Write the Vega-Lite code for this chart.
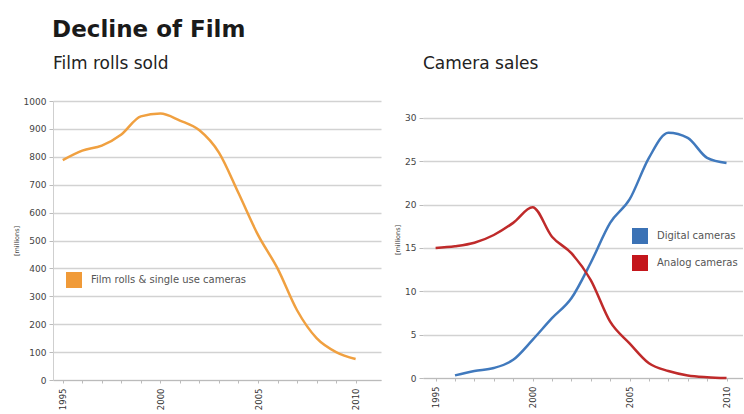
{
  "$schema": "https://vega.github.io/schema/vega-lite/v6.json",
  "background": "white",
  "padding": {"left": 13, "top": 19, "right": 0, "bottom": 0},
  "title": {"text": "Decline of Film", "fontSize": 23, "fontWeight": "bold", "font": "DejaVu Sans", "color": "#1a1a1a", "anchor": "start", "dx": 39, "offset": 13},
  "datasets": {
    "film": [
      {"year": 1995, "value": 788, "series": "Film rolls & single use cameras"},
      {"year": 1996, "value": 822, "series": "Film rolls & single use cameras"},
      {"year": 1997, "value": 840, "series": "Film rolls & single use cameras"},
      {"year": 1998, "value": 880, "series": "Film rolls & single use cameras"},
      {"year": 1999, "value": 945, "series": "Film rolls & single use cameras"},
      {"year": 2000, "value": 955, "series": "Film rolls & single use cameras"},
      {"year": 2001, "value": 930, "series": "Film rolls & single use cameras"},
      {"year": 2002, "value": 895, "series": "Film rolls & single use cameras"},
      {"year": 2003, "value": 815, "series": "Film rolls & single use cameras"},
      {"year": 2004, "value": 670, "series": "Film rolls & single use cameras"},
      {"year": 2005, "value": 520, "series": "Film rolls & single use cameras"},
      {"year": 2006, "value": 400, "series": "Film rolls & single use cameras"},
      {"year": 2007, "value": 250, "series": "Film rolls & single use cameras"},
      {"year": 2008, "value": 150, "series": "Film rolls & single use cameras"},
      {"year": 2009, "value": 100, "series": "Film rolls & single use cameras"},
      {"year": 2010, "value": 75, "series": "Film rolls & single use cameras"}
    ],
    "cameras": [
      {"year": 1996, "value": 0.3, "series": "Digital cameras"},
      {"year": 1997, "value": 0.8, "series": "Digital cameras"},
      {"year": 1998, "value": 1.15, "series": "Digital cameras"},
      {"year": 1999, "value": 2.1, "series": "Digital cameras"},
      {"year": 2000, "value": 4.4, "series": "Digital cameras"},
      {"year": 2001, "value": 6.9, "series": "Digital cameras"},
      {"year": 2002, "value": 9.2, "series": "Digital cameras"},
      {"year": 2003, "value": 13.3, "series": "Digital cameras"},
      {"year": 2004, "value": 17.9, "series": "Digital cameras"},
      {"year": 2005, "value": 20.6, "series": "Digital cameras"},
      {"year": 2006, "value": 25.4, "series": "Digital cameras"},
      {"year": 2007, "value": 28.3, "series": "Digital cameras"},
      {"year": 2008, "value": 27.7, "series": "Digital cameras"},
      {"year": 2009, "value": 25.4, "series": "Digital cameras"},
      {"year": 2010, "value": 24.8, "series": "Digital cameras"},
      {"year": 1995, "value": 15.0, "series": "Analog cameras"},
      {"year": 1996, "value": 15.2, "series": "Analog cameras"},
      {"year": 1997, "value": 15.6, "series": "Analog cameras"},
      {"year": 1998, "value": 16.5, "series": "Analog cameras"},
      {"year": 1999, "value": 17.9, "series": "Analog cameras"},
      {"year": 2000, "value": 19.7, "series": "Analog cameras"},
      {"year": 2001, "value": 16.3, "series": "Analog cameras"},
      {"year": 2002, "value": 14.4, "series": "Analog cameras"},
      {"year": 2003, "value": 11.3, "series": "Analog cameras"},
      {"year": 2004, "value": 6.5, "series": "Analog cameras"},
      {"year": 2005, "value": 4.0, "series": "Analog cameras"},
      {"year": 2006, "value": 1.7, "series": "Analog cameras"},
      {"year": 2007, "value": 0.8, "series": "Analog cameras"},
      {"year": 2008, "value": 0.3, "series": "Analog cameras"},
      {"year": 2009, "value": 0.1, "series": "Analog cameras"},
      {"year": 2010, "value": 0.0, "series": "Analog cameras"}
    ]
  },
  "config": {
    "font": "DejaVu Sans",
    "view": {"stroke": null},
    "axis": {"labelFont": "DejaVu Sans", "titleFont": "DejaVu Sans", "labelColor": "#444", "titleColor": "#444"},
    "axisY": {"domain": true, "domainColor": "#cfcfcf", "domainWidth": 1, "grid": true, "gridColor": "#d2d2d2", "gridWidth": 1.5, "tickColor": "#bbb", "tickSize": 4, "labelFontSize": 9, "titleFontSize": 6.5, "titleFontWeight": "normal", "titlePadding": 4, "labelPadding": 3},
    "axisX": {"domain": true, "domainColor": "#bbb", "grid": false, "tickColor": "#bbb", "tickSize": 3, "labelFontSize": 8.5, "labelAngle": 270, "labelPadding": 5, "labelColor": "#333"},
    "legend": {"labelFont": "DejaVu Sans", "labelFontSize": 10, "labelColor": "#555", "symbolType": "square", "symbolSize": 256, "symbolStrokeWidth": 0, "labelOffset": 9, "padding": 0},
    "title": {"font": "DejaVu Sans"}
  },
  "resolve": {"scale": {"color": "independent"}, "legend": {"color": "independent"}},
  "bounds": "flush",
  "spacing": 42,
  "hconcat": [
    {
      "data": {"name": "film"},
      "width": 328,
      "height": 279,
      "title": {"text": "Film rolls sold", "fontSize": 17, "fontWeight": "normal", "color": "#222", "anchor": "start", "frame": "group", "offset": 24},
      "mark": {"type": "line", "strokeWidth": 2.5, "interpolate": "monotone"},
      "encoding": {
        "x": {"field": "year", "type": "quantitative", "title": null,
              "scale": {"domain": [1994.5, 2011.3], "nice": false, "zero": false},
              "axis": {"values": [1995,1996,1997,1998,1999,2000,2001,2002,2003,2004,2005,2006,2007,2008,2009,2010], "format": "d", "labelExpr": "datum.value % 5 === 0 ? datum.label : ''"}},
        "y": {"field": "value", "type": "quantitative", "title": "[millions]",
              "scale": {"domain": [0, 1000], "nice": false},
              "axis": {"values": [0,100,200,300,400,500,600,700,800,900,1000], "format": "d"}},
        "color": {"field": "series", "type": "nominal",
                  "scale": {"domain": ["Film rolls & single use cameras"], "range": ["#f0a040"]},
                  "legend": {"title": null, "orient": "none", "legendX": 13, "legendY": 171,
                             "encode": {"symbols": {"update": {"fill": {"value": "#f09a38"}, "strokeWidth": {"value": 0}}}}}}
      }
    },
    {
      "data": {"name": "cameras"},
      "width": 320,
      "height": 277,
      "title": {"text": "Camera sales", "fontSize": 17, "fontWeight": "normal", "color": "#222", "anchor": "start", "frame": "group", "offset": 28},
      "mark": {"type": "line", "strokeWidth": 2.5, "interpolate": "monotone"},
      "encoding": {
        "x": {"field": "year", "type": "quantitative", "title": null,
              "scale": {"domain": [1994.35, 2010.85], "nice": false, "zero": false},
              "axis": {"values": [1995,1996,1997,1998,1999,2000,2001,2002,2003,2004,2005,2006,2007,2008,2009,2010], "format": "d", "labelExpr": "datum.value % 5 === 0 ? datum.label : ''"}},
        "y": {"field": "value", "type": "quantitative", "title": "[millions]",
              "scale": {"domain": [0, 31.96], "nice": false},
              "axis": {"values": [0,5,10,15,20,25,30], "domain": false}},
        "color": {"field": "series", "type": "nominal",
                  "scale": {"domain": ["Digital cameras", "Analog cameras"], "range": ["#4079bd", "#bf2a2a"]},
                  "legend": {"title": null, "orient": "none", "legendX": 209, "legendY": 127, "rowPadding": 11,
                             "encode": {"symbols": {"update": {"fill": {"signal": "datum.value === 'Digital cameras' ? '#3b72b5' : '#c4161c'"}, "strokeWidth": {"value": 0}}}}}}
      }
    }
  ]
}
